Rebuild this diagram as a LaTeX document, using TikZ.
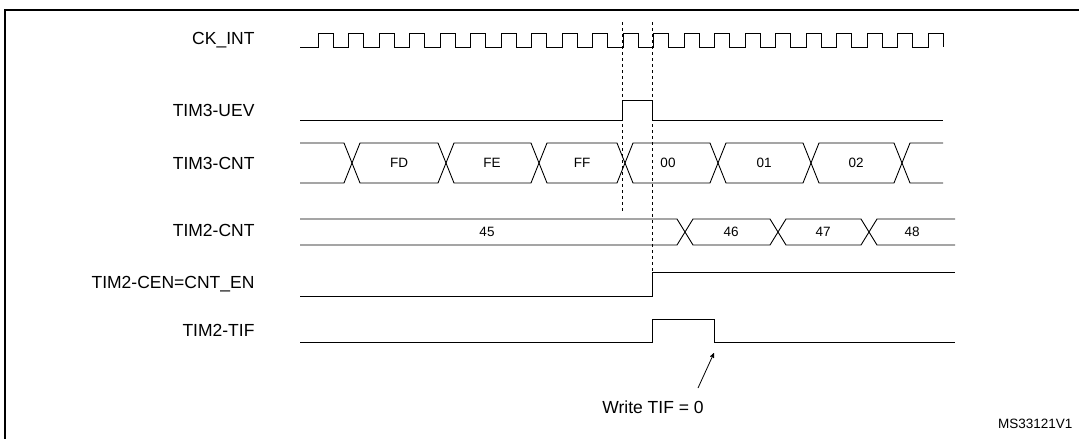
\documentclass[tikz,border=0pt]{standalone}
\usepackage{fontspec}
\setmainfont{Liberation Sans}
\usetikzlibrary{arrows, positioning}

\begin{document}
\begin{tikzpicture}[>= stealth', x=1pt, y=-1pt]
            \tikzstyle{sig}=[line width=0.9pt]
            \tikzstyle{lbl}=[anchor=east, font=\fontsize{17.5}{20}\selectfont]
            \tikzstyle{val}=[font=\fontsize{13.5}{15}\selectfont]

            \useasboundingbox (0,0) rectangle (1079,439);
            \draw[line width=1.2pt] (5,441) -- (5,10) -- (1081,10);

            % signal names
            \node[lbl] (ck) at (258,40) {CK\_INT};
            \node[lbl] (uev) at (258,110) {TIM3-UEV};
            \node[lbl] (cnt3) at (258,163) {TIM3-CNT};
            \node[lbl] (cnt2) at (258,230) {TIM2-CNT};
            \node[lbl] (cen) at (258,284) {TIM2-CEN=CNT\_EN};
            \node[lbl] (tif) at (258,330) {TIM2-TIF};

            % clock
            \draw[sig] (300,47) -- (318,47)
              \foreach \k in {0,...,19} { -- ++(0,-14) -- ++(15.25,0) -- ++(0,14) -- ++(15.25,0) }
              -- ++(0,-14) -- ++(15.25,0) -- ++(0,14);

            % TIM3-UEV
            \draw[sig] (300,120) -- (622,120) -- (622,100) -- (652,100) -- (652,120) -- (943,120);

            % TIM3-CNT bus
            \draw[sig] (300,143) -- (344,143) -- (352,163) -- (344,183) -- (300,183);
            \foreach \a/\b in {352/446, 446/539, 539/625, 625/718, 718/811, 811/902}
              \draw[sig] (\a,163) -- (\a+8,143) -- (\b-8,143) -- (\b,163) -- (\b-8,183) -- (\a+8,183) -- cycle;
            \foreach \x/\t in {399/FD, 492/FE, 582/FF, 668/00, 764/01, 856/02}
              \node[val] at (\x,163) {\t};
            \draw[sig] (943,143) -- (910,143) -- (902,163) -- (910,183) -- (943,183);

            % TIM2-CNT bus
            \draw[sig] (300,219) -- (677,219) -- (685,232) -- (677,245) -- (300,245);
            \node[val] at (487,232) {45};
            \foreach \a/\b in {685/778, 778/869}
              \draw[sig] (\a,232) -- (\a+8,219) -- (\b-8,219) -- (\b,232) -- (\b-8,245) -- (\a+8,245) -- cycle;
            \draw[sig] (955,219) -- (877,219) -- (869,232) -- (877,245) -- (955,245);
            \foreach \x/\t in {731/46, 823/47, 912/48}
              \node[val] at (\x,232) {\t};

            % TIM2-CEN and TIM2-TIF
            \draw[sig] (300,296) -- (652,296) -- (652,272) -- (955,272);
            \draw[sig] (300,342) -- (652,342) -- (652,319) -- (714,319) -- (714,342) -- (955,342);

            % markers
            \draw[dashed] (622,22) -- (622,213);
            \draw[dashed] (652,22) -- (652,296);

            \node[font=\fontsize{17.5}{20}\selectfont] (wr) at (653,407) {Write TIF = 0};
            \coordinate (fall) at (714,353);
            \draw[->, line width=0.8pt] (698,388) -- (fall);
            \node[anchor=east, font=\fontsize{13.5}{15}\selectfont] (ms) at (1076,424) {MS33121V1};
          \end{tikzpicture}
\end{document}
